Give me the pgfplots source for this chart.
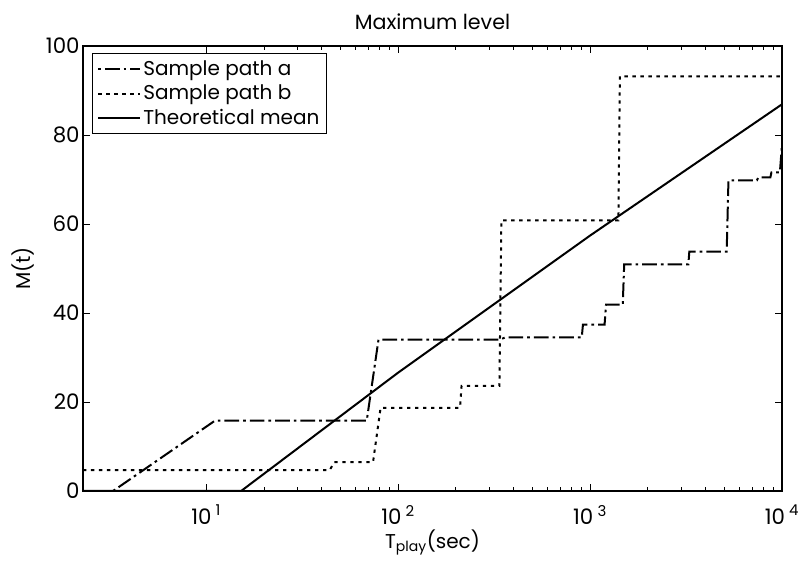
\documentclass[border=0pt]{standalone}
\usepackage{fontspec}
\setmainfont{Poppins}
\usepackage{pgfplots}
\pgfplotsset{compat=1.18}
\begin{document}
\begin{tikzpicture}
\begin{axis}[
  at={(0,0)}, anchor=south west,
  scale only axis, width=524.25pt, height=333.75pt,
  xmode=log, xmin=2.28, xmax=10000, ymin=0, ymax=100,
  ytick={0,20,40,60,80,100},
  xtick={10,100,1000,10000},
  xticklabels={{10\textsuperscript{\;1}},{10\textsuperscript{\;2}},{10\textsuperscript{\;3}},{10\textsuperscript{\;4}}},
  /pgf/number format/assume math mode=true,
  tick align=inside, tick pos=both,
  major tick length=5pt, minor tick length=3pt,
  axis line style={line width=1pt},
  every tick/.style={line width=0.7pt, black},
  ticklabel style={font=\fontsize{16}{18}\selectfont},
  yticklabel style={xshift=1pt},
  xticklabel style={yshift=-7pt},
  title={Maximum level},
  title style={font=\fontsize{15.5}{18}\selectfont, at={(0.5,1)}, anchor=south, yshift=3pt},
  xlabel={T\textsubscript{play}(sec)},
  ylabel={M(t)},
  label style={font=\fontsize{15}{18}\selectfont},
  xlabel style={yshift=3pt},
  ylabel style={yshift=2pt},
  legend style={at={(0.013,0.984)}, anchor=north west, draw=black, line width=0.8pt,
     font=\fontsize{15}{18}\selectfont, inner sep=3.5pt, row sep=1.5pt,
     /tikz/every even column/.append style={column sep=3pt}},
  legend cell align=left,
  legend image code/.code={\draw[#1] (0pt,0pt) -- (31pt,0pt);},
]
\addplot[black, line width=1.5pt, dash pattern=on 2pt off 3pt on 11pt off 3pt] coordinates {
(3.27,0) (11.1,15.8) (68.6,15.8) (79,34.0) (340,34.0) (360,34.5) (905,34.5) (918,37.4)
(1190,37.4) (1211,41.9) (1480,41.9) (1506,50.9) (3250,50.9) (3290,53.8) (5150,53.8)
(5260,69.8) (7400,69.8) (7530,70.5) (8700,70.5) (8810,71.6) (9750,71.6) (10000,77.9)
};
\addlegendentry{Sample path a}
\addplot[black, line width=1.5pt, dash pattern=on 2.5pt off 3.5pt] coordinates {
(2.28,4.7) (44,4.7) (46.5,6.5) (74,6.5) (81,18.7) (210,18.7) (214,23.6) (337,23.6)
(345,60.8) (1405,60.8) (1430,93.2) (10000,93.2)
};
\addlegendentry{Sample path b}
\addplot[black, line width=1.5pt] coordinates {
(2.28,0) (15.2,0) (100,26.6) (1000,57.4) (10000,86.9)
};
\addlegendentry{Theoretical mean}
\end{axis}
\pgfresetboundingbox
\path (-62.25pt,-57pt) rectangle (537.75pt,368.25pt);
\end{tikzpicture}
\end{document}
